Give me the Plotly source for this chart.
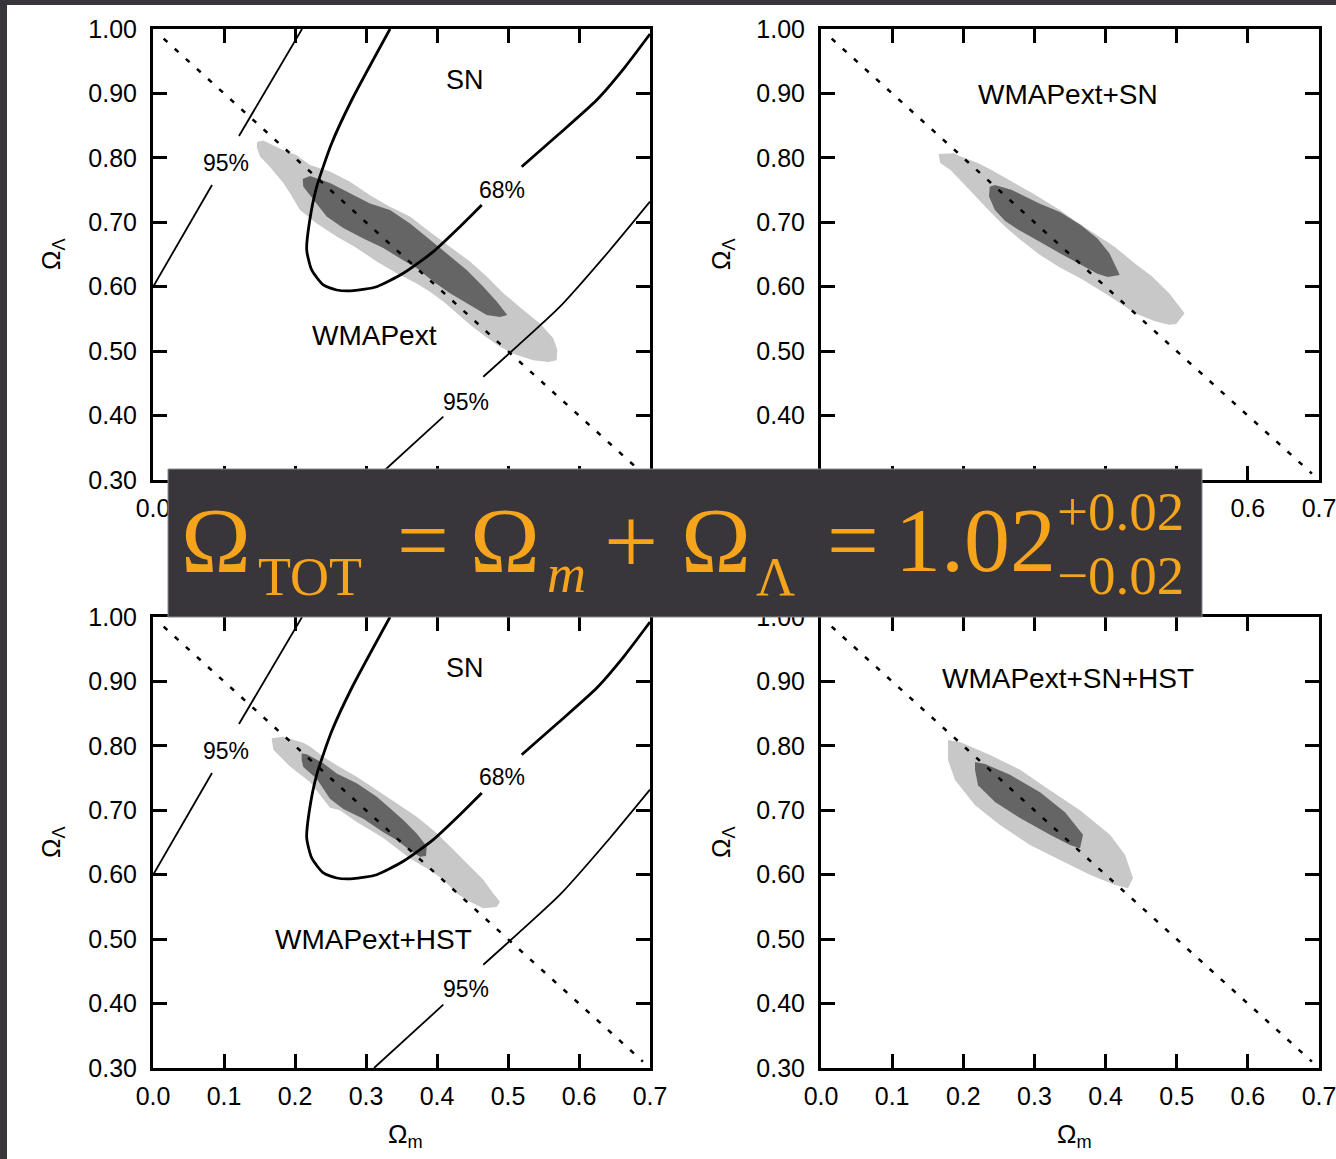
import plotly.graph_objects as go

# ---------------- data (Omega_m, Omega_Lambda) ----------------
x_ticks = [0.0, 0.1, 0.2, 0.3, 0.4, 0.5, 0.6, 0.7]
x_ticktext = ["0.0", "0.1", "0.2", "0.3", "0.4", "0.5", "0.6", "0.7"]
y_ticks = [0.3, 0.4, 0.5, 0.6, 0.7, 0.8, 0.9, 1.0]
y_ticktext = ["0.30", "0.40", "0.50", "0.60", "0.70", "0.80", "0.90", "1.00"]

# flat universe line  Omega_m + Omega_Lambda = 1
flat_m = [0.015, 0.69]
flat_L = [0.985, 0.31]

# SN contours (68% and the two 95% branches); None = gap for labels
sn68_m = [0.3338, 0.2799, 0.2517, 0.2306, 0.2201, 0.2165, 0.2235, 0.2399, 0.2587, 0.2821,
          0.3151, 0.3525, 0.3948, 0.4324, 0.4630, None, 0.5193, 0.5718, 0.6249, 0.6648, 0.7000]
sn68_L = [1.0000, 0.8898, 0.8226, 0.7552, 0.6984, 0.6570, 0.6260, 0.6027, 0.5949, 0.5938,
          0.6000, 0.6208, 0.6544, 0.6932, 0.7268, None, 0.7863, 0.8370, 0.8898, 0.9410, 0.9922]
sn95a_m = [0.0000, 0.0831, None, 0.1211, 0.2099]
sn95a_L = [0.5996, 0.7579, None, 0.8339, 1.0000]
sn95b_m = [0.3113, 0.4089, None, 0.4652, 0.5123, 0.5732, 0.6437, 0.7000]
sn95b_L = [0.3000, 0.3983, None, 0.4603, 0.5069, 0.5690, 0.6570, 0.7320]

# WMAPext (top-left)
wmap95_m = [0.1469, 0.1554, 0.1835, 0.2024, 0.2211, 0.2493, 0.2775, 0.3056, 0.3338, 0.3620,
            0.3901, 0.4183, 0.4465, 0.4700, 0.4934, 0.5215, 0.5451, 0.5638, 0.5694, 0.5686,
            0.5568, 0.5356, 0.5123, 0.4887, 0.4652, 0.4465, 0.4277, 0.4089, 0.3901, 0.3714,
            0.3432, 0.3151, 0.2869, 0.2587, 0.2306, 0.2070, 0.1930, 0.1835, 0.1648, 0.1507, 0.1461]
wmap95_L = [0.825, 0.827, 0.812, 0.804, 0.789, 0.779, 0.763, 0.742, 0.724, 0.709,
            0.685, 0.662, 0.639, 0.616, 0.590, 0.564, 0.543, 0.520, 0.502, 0.486,
            0.483, 0.486, 0.494, 0.507, 0.525, 0.541, 0.559, 0.577, 0.592, 0.605,
            0.621, 0.639, 0.660, 0.678, 0.698, 0.719, 0.745, 0.761, 0.786, 0.802, 0.817]
wmap68_m = [0.2108, 0.2211, 0.2493, 0.2775, 0.3056, 0.3338, 0.3620, 0.3901, 0.4183, 0.4418,
            0.4652, 0.4841, 0.4990, 0.4887, 0.4700, 0.4465, 0.4183, 0.3948, 0.3714, 0.3525,
            0.3244, 0.2962, 0.2680, 0.2446, 0.2258, 0.2117]
wmap68_L = [0.767, 0.772, 0.761, 0.745, 0.729, 0.719, 0.698, 0.673, 0.647, 0.626,
            0.600, 0.577, 0.556, 0.553, 0.556, 0.572, 0.590, 0.608, 0.629, 0.641,
            0.660, 0.675, 0.691, 0.709, 0.735, 0.755]

# WMAPext+SN (top-right)
wsn95_m = [0.1652, 0.1867, 0.1964, 0.2204, 0.2397, 0.2685, 0.2973, 0.3357, 0.3549, 0.3837,
           0.4126, 0.4414, 0.4654, 0.4895, 0.5111, 0.4992, 0.4895, 0.4703, 0.4414, 0.4030,
           0.3837, 0.3645, 0.3357, 0.3069, 0.2781, 0.2588, 0.2397, 0.2204, 0.2012, 0.1819,
           0.1747, 0.1676]
wsn95_L = [0.806, 0.807, 0.802, 0.792, 0.781, 0.763, 0.745, 0.719, 0.704, 0.683,
           0.662, 0.636, 0.616, 0.590, 0.559, 0.542, 0.541, 0.546, 0.559, 0.587,
           0.600, 0.613, 0.630, 0.650, 0.675, 0.693, 0.714, 0.737, 0.759, 0.781,
           0.786, 0.792]
wsn68_m = [0.2371, 0.2444, 0.2685, 0.3069, 0.3357, 0.3645, 0.3885, 0.4054, 0.4199, 0.4030,
           0.3885, 0.3645, 0.3357, 0.3069, 0.2781, 0.2588, 0.2444, 0.2362]
wsn68_L = [0.755, 0.758, 0.750, 0.729, 0.716, 0.696, 0.675, 0.652, 0.618, 0.615,
           0.620, 0.634, 0.652, 0.670, 0.688, 0.702, 0.719, 0.740]

# WMAPext+HST (bottom-left)
whst95_m = [0.1671, 0.1836, 0.2117, 0.2211, 0.2399, 0.2587, 0.2869, 0.3151, 0.3432, 0.3714,
            0.3948, 0.4183, 0.4418, 0.4652, 0.4793, 0.4887, 0.4841, 0.4652, 0.4465, 0.4277,
            0.4089, 0.3901, 0.3620, 0.3244, 0.2869, 0.2634, 0.2493, 0.2211, 0.1930, 0.1695]
whst95_L = [0.812, 0.814, 0.805, 0.799, 0.783, 0.770, 0.752, 0.732, 0.711, 0.690,
            0.669, 0.644, 0.618, 0.592, 0.571, 0.558, 0.550, 0.548, 0.558, 0.571,
            0.592, 0.607, 0.625, 0.657, 0.682, 0.700, 0.704, 0.744, 0.768, 0.794]
whst68_m = [0.2094, 0.2165, 0.2399, 0.2587, 0.2869, 0.3151, 0.3338, 0.3525, 0.3714, 0.3855,
            0.3845, 0.3761, 0.3620, 0.3432, 0.3244, 0.2962, 0.2680, 0.2493, 0.2306, 0.2117, 0.2094]
whst68_L = [0.788, 0.787, 0.773, 0.757, 0.742, 0.721, 0.703, 0.685, 0.664, 0.644,
            0.629, 0.628, 0.638, 0.654, 0.666, 0.687, 0.702, 0.718, 0.749, 0.767, 0.778]

# WMAPext+SN+HST (bottom-right)
wall95_m = [0.1785, 0.1954, 0.2376, 0.2797, 0.3219, 0.3641, 0.4062, 0.4273, 0.4386, 0.4315,
            0.4133, 0.3781, 0.3360, 0.2938, 0.2516, 0.2165, 0.1884, 0.1785]
wall95_L = [0.809, 0.806, 0.786, 0.763, 0.731, 0.700, 0.662, 0.631, 0.595, 0.579,
            0.584, 0.600, 0.623, 0.646, 0.677, 0.708, 0.747, 0.778]
wall68_m = [0.2165, 0.2305, 0.2657, 0.3078, 0.3430, 0.3683, 0.3641, 0.3500, 0.3219, 0.2797,
            0.2446, 0.2207, 0.2165]
wall68_L = [0.775, 0.772, 0.755, 0.728, 0.697, 0.662, 0.641, 0.646, 0.662, 0.688,
            0.713, 0.739, 0.763]

# ---------------- figure ----------------
W, H = 1336, 1159
def fx(p):
    return p / W
def fy(p):
    return 1 - p / H

LIGHT = "#c8c8c8"
DARK = "#656565"
ORANGE = "#f5a41c"
BANNER = "#38363b"
SANS = "Liberation Sans, Arial, Helvetica, sans-serif"
SERIF = "Liberation Serif, Times New Roman, serif"

fig = go.Figure()

panels = [
    ("x", "y", (153, 650), (29, 480), (wmap95_m, wmap95_L, wmap68_m, wmap68_L), True),
    ("x2", "y2", (821, 1319), (29, 480), (wsn95_m, wsn95_L, wsn68_m, wsn68_L), False),
    ("x3", "y3", (153, 650), (617, 1068), (whst95_m, whst95_L, whst68_m, whst68_L), True),
    ("x4", "y4", (821, 1319), (617, 1068), (wall95_m, wall95_L, wall68_m, wall68_L), False),
]

for xa, ya, xd, yd, (c95m, c95L, c68m, c68L), has_sn in panels:
    fig.add_trace(go.Scatter(x=c95m, y=c95L, fill="toself", fillcolor=LIGHT, mode="lines",
                             line=dict(width=0, color=LIGHT), xaxis=xa, yaxis=ya, hoverinfo="skip"))
    fig.add_trace(go.Scatter(x=c68m, y=c68L, fill="toself", fillcolor=DARK, mode="lines",
                             line=dict(width=0, color=DARK), xaxis=xa, yaxis=ya, hoverinfo="skip"))
    fig.add_trace(go.Scatter(x=flat_m, y=flat_L, mode="lines",
                             line=dict(width=2.5, color="black", dash="5px,10px"),
                             xaxis=xa, yaxis=ya, hoverinfo="skip"))
    if has_sn:
        fig.add_trace(go.Scatter(x=sn68_m, y=sn68_L, mode="lines", connectgaps=False,
                                 line=dict(width=2.8, color="black", shape="spline", smoothing=0.6),
                                 xaxis=xa, yaxis=ya, hoverinfo="skip"))
        fig.add_trace(go.Scatter(x=sn95a_m, y=sn95a_L, mode="lines", connectgaps=False,
                                 line=dict(width=1.8, color="black"),
                                 xaxis=xa, yaxis=ya, hoverinfo="skip"))
        fig.add_trace(go.Scatter(x=sn95b_m, y=sn95b_L, mode="lines", connectgaps=False,
                                 line=dict(width=1.8, color="black", shape="spline", smoothing=0.6),
                                 xaxis=xa, yaxis=ya, hoverinfo="skip"))

axis_common = dict(showline=True, linewidth=3, linecolor="black", mirror="ticks",
                   ticks="inside", ticklen=14, tickwidth=3, tickcolor="black",
                   showgrid=False, zeroline=False, fixedrange=True, automargin=False,
                   ticklabeloverflow="allow",
                   tickfont=dict(family=SANS, size=25, color="black"))

layout_axes = {}
for xa, ya, xd, yd, _, _ in panels:
    xname = "xaxis" if xa == "x" else "xaxis" + xa[1:]
    yname = "yaxis" if ya == "y" else "yaxis" + ya[1:]
    layout_axes[xname] = dict(axis_common, domain=[fx(xd[0]), fx(xd[1])], range=[0, 0.7],
                              tickvals=x_ticks, ticktext=x_ticktext, anchor=ya,
                              ticklabelstandoff=4)
    layout_axes[yname] = dict(axis_common, domain=[fy(yd[1]), fy(yd[0])], range=[0.3, 1.0],
                              tickvals=y_ticks, ticktext=y_ticktext, anchor=xa,
                              ticklabelstandoff=8)

fig.update_layout(**layout_axes)

ann = []
def lab(text, xv, yv, xa, ya, size):
    ann.append(dict(text=text, x=xv, y=yv, xref=xa, yref=ya, showarrow=False,
                    xanchor="center", yanchor="middle",
                    font=dict(family=SANS, size=size, color="black")))

# panel labels
lab("SN", 0.4394, 0.921, "x", "y", 27)
lab("95%", 0.1028, 0.792, "x", "y", 23)
lab("68%", 0.4915, 0.750, "x", "y", 23)
lab("95%", 0.4408, 0.421, "x", "y", 23)
lab("WMAPext", 0.3113, 0.5235, "x", "y", 28)
lab("WMAPext+SN", 0.347, 0.898, "x2", "y2", 28)
lab("SN", 0.4394, 0.921, "x3", "y3", 27)
lab("95%", 0.1028, 0.792, "x3", "y3", 23)
lab("68%", 0.4915, 0.752, "x3", "y3", 23)
lab("95%", 0.4408, 0.423, "x3", "y3", 23)
lab("WMAPext+HST", 0.3099, 0.499, "x3", "y3", 28)
lab("WMAPext+SN+HST", 0.347, 0.905, "x4", "y4", 28)

# axis titles (the ones not hidden by the banner)
for (xp, yp) in [(52, 254), (52, 842), (722, 254), (722, 842)]:
    ann.append(dict(text="Ω<sub>Λ</sub>", x=fx(xp), y=fy(yp), xref="paper", yref="paper",
                    showarrow=False, textangle=-90, xanchor="center", yanchor="middle",
                    font=dict(family=SANS, size=26, color="black")))
for (xp, yp) in [(405, 1135), (1074, 1135)]:
    ann.append(dict(text="Ω<sub>m</sub>", x=fx(xp), y=fy(yp), xref="paper", yref="paper",
                    showarrow=False, xanchor="center", yanchor="middle",
                    font=dict(family=SANS, size=26, color="black")))

# banner equation pieces: (text, left px, centre px, size)
eq = [
    ("Ω", 180, 540, 94),
    ("TOT", 257, 577, 54),
    ("=", 396, 540, 92),
    ("Ω", 469, 540, 94),
    ("<i>m</i>", 546, 574, 54),
    ("+", 603, 540, 96),
    ("Ω", 680, 540, 94),
    ("Λ", 755, 577, 54),
    ("=", 826, 540, 92),
    ("1.02", 894, 540, 92),
    ("+0.02", 1056, 511, 55),
    ("−0.02", 1056, 576, 55),
]
for t, xl, yc, s in eq:
    ann.append(dict(text=t, x=fx(xl), y=fy(yc), xref="paper", yref="paper", showarrow=False,
                    xanchor="left", yanchor="middle", borderpad=0,
                    font=dict(family=SERIF, size=s, color=ORANGE)))

shapes = [
    dict(type="rect", xref="paper", yref="paper", x0=0, x1=fx(7), y0=0, y1=1,
         fillcolor=BANNER, line=dict(width=0), layer="above"),
    dict(type="rect", xref="paper", yref="paper", x0=0, x1=1, y0=fy(5), y1=1,
         fillcolor=BANNER, line=dict(width=0), layer="above"),
    dict(type="rect", xref="paper", yref="paper", x0=fx(168), x1=fx(1202), y0=fy(617), y1=fy(469),
         fillcolor=BANNER, line=dict(width=1, color="#8a898c"), layer="above"),
]

fig.update_layout(width=W, height=H,
                  margin=dict(l=0, r=0, t=0, b=0, pad=0, autoexpand=False),
                  paper_bgcolor="white", plot_bgcolor="white", showlegend=False,
                  annotations=ann, shapes=shapes)

fig.write_html("out.html")
